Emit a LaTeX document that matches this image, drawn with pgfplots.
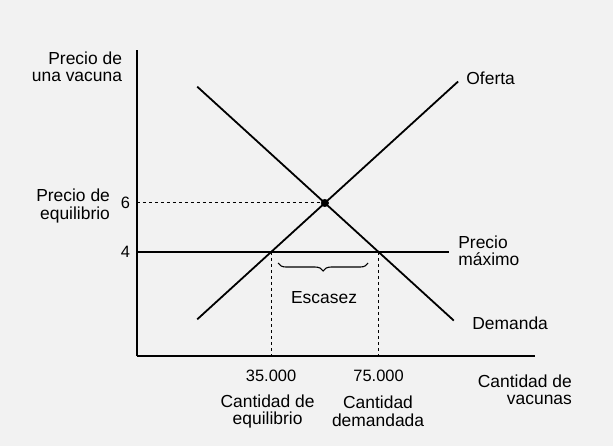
\documentclass[border=0pt]{standalone}
\usepackage{pgfplots}
\pgfplotsset{compat=1.18}
\usepackage{fontspec}
\setmainfont{Liberation Sans}
\usetikzlibrary{decorations.pathreplacing}
\begin{document}
\fontsize{17.5}{17.5}\selectfont
\begin{tikzpicture}
\fill[black!5] (-137bp,-90bp) rectangle ++(613bp,446bp);
\begin{axis}[
  at={(0,0)}, anchor=south west,
  width=398bp, height=306bp, scale only axis,
  xmin=-14.9, xmax=133.2, ymin=-0.245, ymax=12.245,
  axis lines=left, axis line style={-, line width=1.3bp},
  clip=false,
  xtick={35,75}, xticklabels={\mbox{35.000},\mbox{75.000}},
  ytick={4,6}, yticklabels={\mbox{4},\mbox{6}},
  major tick length=0pt,
  xticklabel style={yshift=-8bp},
  yticklabel style={xshift=-1bp},
  /pgf/number format/assume math mode=true,
  tick label style={font=\fontsize{16.5}{17}\selectfont},
]
% dashed guide lines
\addplot[black, line width=1bp, dash pattern=on 3bp off 3bp] coordinates {(-14.9,6) (55,6)};
\addplot[black, line width=1bp, dash pattern=on 3bp off 3bp] coordinates {(35,4) (35,-0.245)};
\addplot[black, line width=1bp, dash pattern=on 3bp off 3bp] coordinates {(75,4) (75,-0.245)};
% price ceiling
\addplot[black, line width=1.8bp] coordinates {(-14.9,4) (101.2,4)};
% supply
\addplot[black, line width=1.8bp] coordinates {(7.5,1.25) (104.6,10.96)};
% demand
\addplot[black, line width=1.8bp] coordinates {(7.5,10.75) (103,1.2)};
% equilibrium
\addplot[only marks, mark=*, mark size=3.8bp, black] coordinates {(55,6)};
% brace
\draw[line width=1.1bp, decorate, decoration={brace, amplitude=8bp, mirror}] (axis cs:37.6,3.55) -- (axis cs:71.1,3.55);
% labels
\node[anchor=east, align=right, inner sep=0pt] at (axis cs:-20.4,11.55) {Precio de\\una vacuna};
\node[anchor=east, align=right, inner sep=0pt] at (axis cs:-24.9,5.88) {Precio de\\equilibrio};
\node[anchor=west, inner sep=0pt] at (axis cs:107.6,11.1) {Oferta};
\node[anchor=west, align=left, inner sep=0pt] at (axis cs:104.6,4.04) {Precio\\máximo};
\node[anchor=west, inner sep=0pt] at (axis cs:109.8,1.1) {Demanda};
\node[inner sep=0pt] at (axis cs:54.7,2.12) {Escasez};
\node[align=center, inner sep=0pt] at (axis cs:33.7,-2.5) {Cantidad de\\equilibrio};
\node[align=center, inner sep=0pt] at (axis cs:74.8,-2.5) {Cantidad\\demandada};
\node[anchor=east, align=right, inner sep=0pt] at (axis cs:147,-1.63) {Cantidad de\\vacunas};
\end{axis}
\end{tikzpicture}
\end{document}
